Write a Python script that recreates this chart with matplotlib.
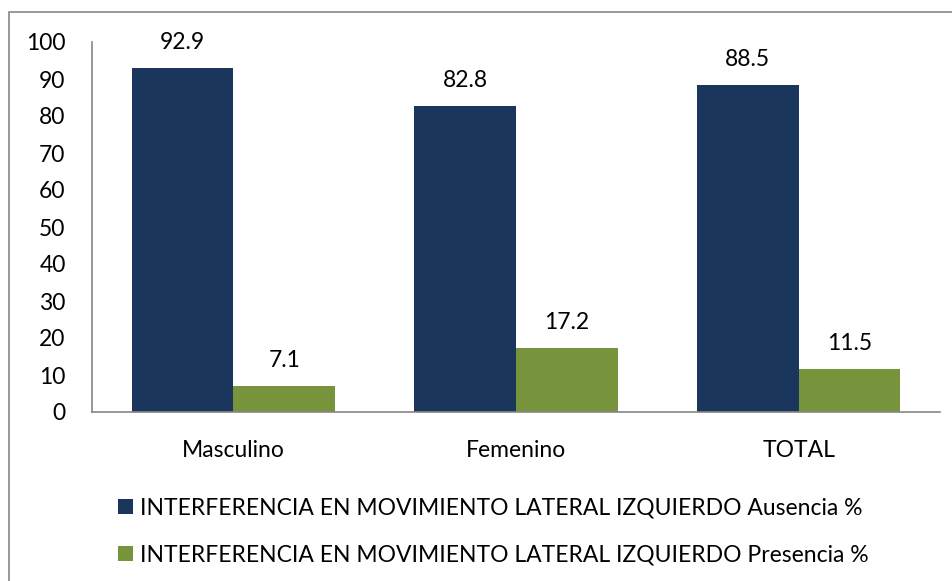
import matplotlib.pyplot as plt
from matplotlib.lines import Line2D
import numpy as np

plt.rcParams['font.family'] = ['Lato', 'DejaVu Sans']

# data
categories = ['Masculino', 'Femenino', 'TOTAL']
ausencia = [92.9, 82.8, 88.5]
presencia = [7.1, 17.2, 11.5]
series_labels = [
    'INTERFERENCIA EN MOVIMIENTO LATERAL IZQUIERDO Ausencia %',
    'INTERFERENCIA EN MOVIMIENTO LATERAL IZQUIERDO Presencia %',
]

navy = '#1B365D'
green = '#77933C'
axis_gray = '#868686'
fs = 16.5

W, H = 953, 581
fig = plt.figure(figsize=(W / 100, H / 100), dpi=100)
ax = fig.add_axes([92 / W, 1 - 412 / H, (940 - 92) / W, (412 - 42) / H])

x = np.arange(len(categories))
bw = 0.36
b1 = ax.bar(x - bw / 2, ausencia, bw, color=navy, label=series_labels[0])
b2 = ax.bar(x + bw / 2, presencia, bw, color=green, label=series_labels[1])

for bars, vals in ((b1, ausencia), (b2, presencia)):
    for rect, v in zip(bars, vals):
        ax.annotate(f'{v:.1f}', (rect.get_x() + rect.get_width() / 2, v),
                    xytext=(0, 15), textcoords='offset pixels',
                    ha='center', va='bottom', fontsize=fs)

ax.set_xlim(-0.5, len(categories) - 0.5)
ax.set_ylim(0, 100)
ax.set_yticks(range(0, 101, 10))
ax.set_xticks(x)
ax.set_xticklabels(categories)
ax.tick_params(axis='both', length=0, labelsize=fs)
ax.tick_params(axis='y', pad=19)
ax.tick_params(axis='x', pad=20)
for s in ('top', 'right'):
    ax.spines[s].set_visible(False)
for s in ('left', 'bottom'):
    ax.spines[s].set_color(axis_gray)
    ax.spines[s].set_linewidth(1.2)

fig.legend(handles=[b1, b2], labels=series_labels, loc='upper left',
           bbox_to_anchor=(107 / W, 1 - 486 / H), frameon=False,
           fontsize=fs, handlelength=0.65, handleheight=0.65,
           handletextpad=0.3, labelspacing=1.15, borderpad=0)

# chart area border (top and left visible)
fig.add_artist(Line2D([9 / W, 9 / W, 1], [0, 1 - 12 / H, 1 - 12 / H],
                      color=axis_gray, lw=1.2, transform=fig.transFigure))

fig.savefig('out.png', dpi=100)
